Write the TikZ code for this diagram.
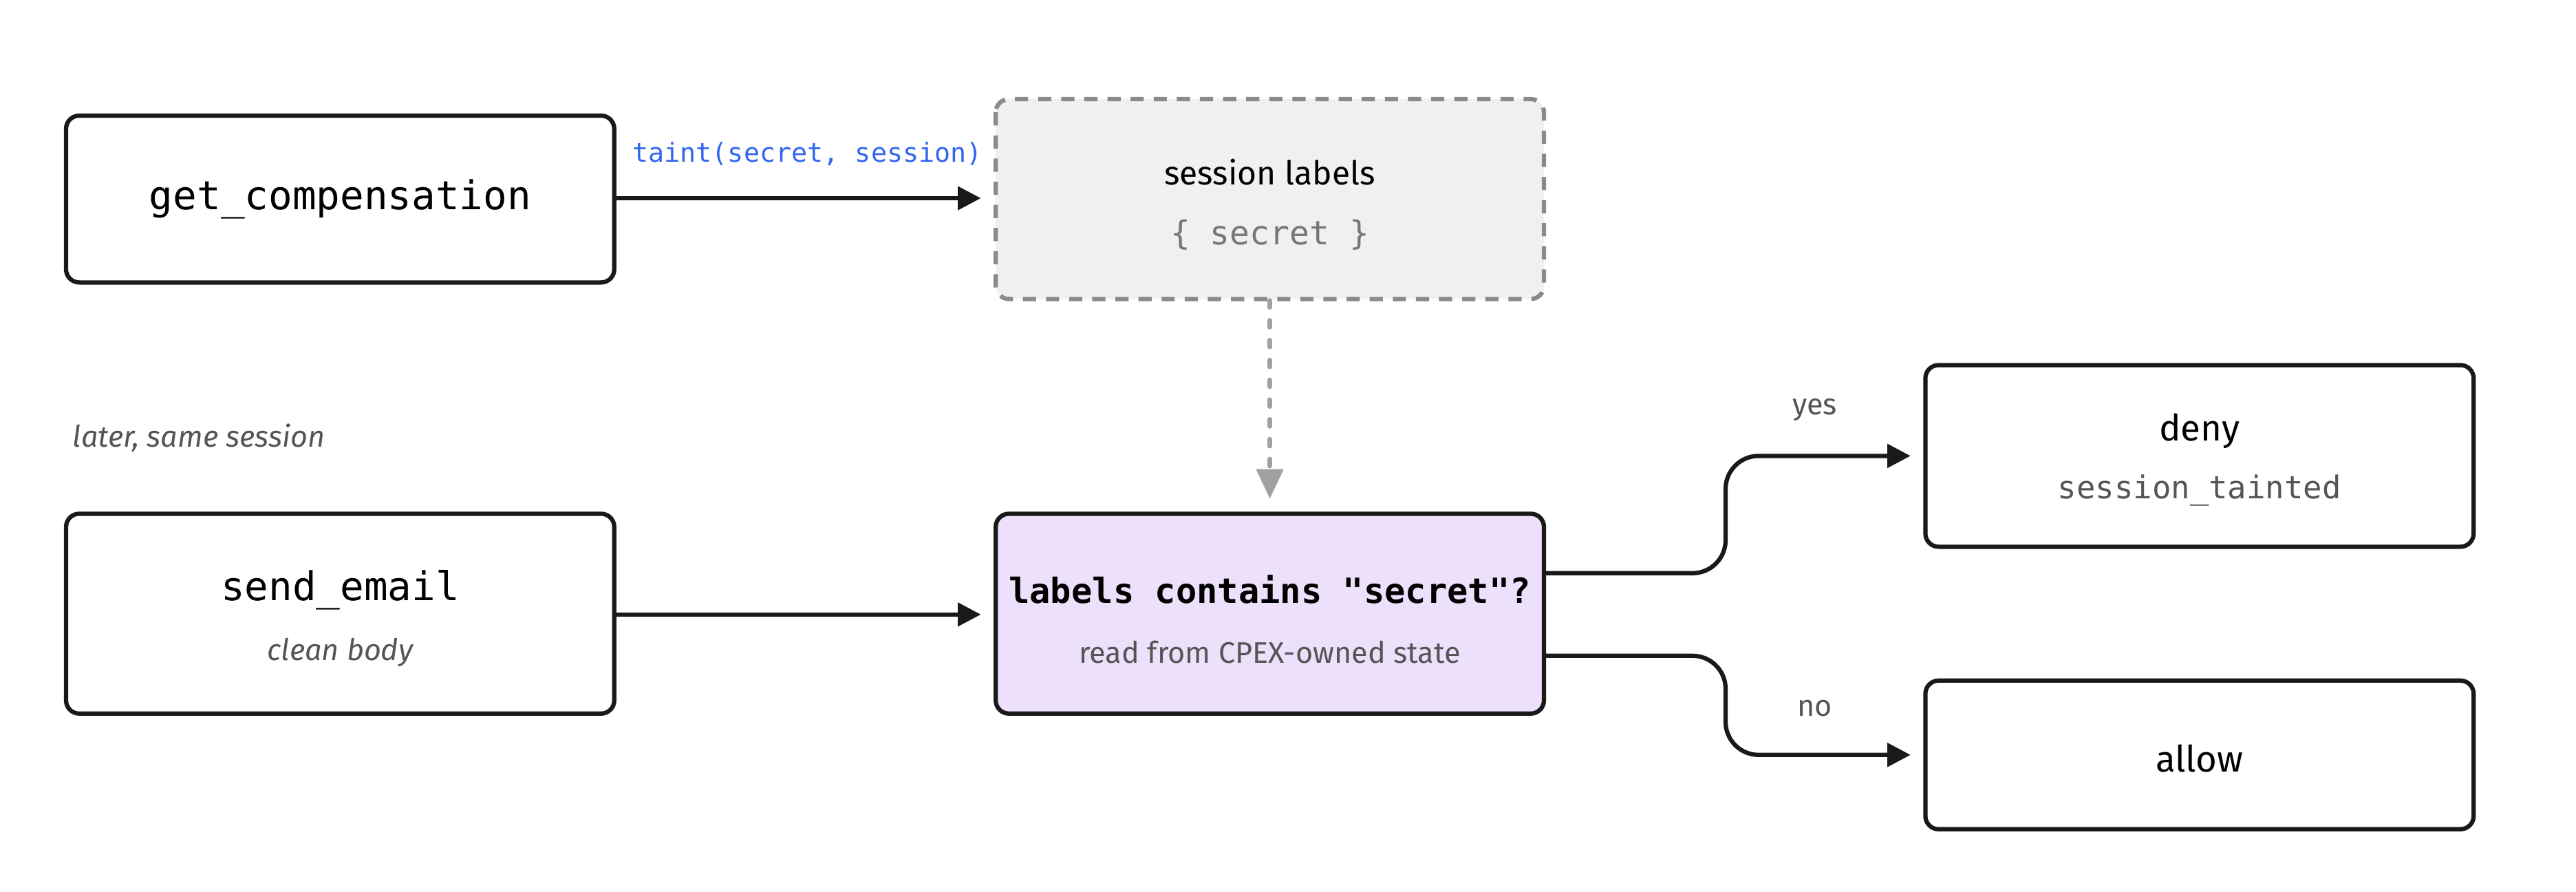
\documentclass[tikz,border=0pt]{standalone}
\usepackage{fontspec}
\setmainfont{Fira Sans}
\setmonofont{DejaVu Sans Mono}
\usetikzlibrary{arrows.meta}
\definecolor{txtgrey}{HTML}{555555}
\definecolor{tblue}{HTML}{3366EE}
\definecolor{lgrey}{HTML}{F0F0F0}
\definecolor{lpurple}{HTML}{EDE0FA}
\definecolor{dgrey}{HTML}{8A8A8A}
\begin{document}
\begin{tikzpicture}[x=0.5pt,y=-0.5pt,
  box/.style={draw=black!90,line width=1.3pt,rounded corners=4pt,fill=white},
  arr/.style={draw=black!90,line width=1.3pt,-{Triangle[length=7pt,width=7pt]}},
  sub/.style={text=txtgrey,font=\fontsize{9}{11}\selectfont}]
\useasboundingbox (0,0) rectangle (1560,540);
\draw[box] (40,70) rectangle (372,171);
\node (gc) at (206,120.5) {};
\node[font=\ttfamily\fontsize{12}{14}\selectfont] at (206,120.5) {get\_compensation};
\draw[box,fill=lgrey,draw=dgrey,dashed,dash pattern=on 4pt off 3pt] (603,60) rectangle (935,181);
\node[font=\fontsize{10}{12}\selectfont] at (769,104) {session labels};
\node[font=\ttfamily\fontsize{10}{12}\selectfont,text=txtgrey!80] at (769,142) {\{ secret \}};
\draw[box] (40,311) rectangle (372,432);
\node[font=\ttfamily\fontsize{12}{14}\selectfont] at (206,357) {send\_email};
\node[sub,font=\itshape\fontsize{9}{11}\selectfont] at (206,395) {clean body};
\draw[box,fill=lpurple] (603,311) rectangle (935,432);
\node[font=\ttfamily\bfseries\fontsize{10.5}{12}\selectfont] at (769,357) {labels contains "secret"?};
\node[sub] at (769,395) {read from CPEX-owned state};
\draw[box] (1166,221) rectangle (1498,331);
\node[font=\fontsize{11}{13}\selectfont] at (1332,261) {deny};
\node[font=\ttfamily\fontsize{9.5}{11}\selectfont,text=txtgrey] at (1332,297) {session\_tainted};
\draw[box] (1166,412) rectangle (1498,502);
\node[font=\fontsize{11}{13}\selectfont] at (1332,459) {allow};
\node[sub,font=\itshape\fontsize{9}{11}\selectfont,anchor=west] at (37,265) {later, same session};
\coordinate (a1) at (372,120);
\coordinate (a2) at (594,120);
\draw[arr] (a1) -- (a2);
\node[font=\ttfamily\fontsize{8}{10}\selectfont,text=tblue] at (489,93) {taint(secret, session)};
\coordinate (b1) at (372,372);
\coordinate (b2) at (594,372);
\draw[arr] (b1) -- (b2);
\coordinate (c1) at (769,182);
\coordinate (c2) at (769,302);
\draw[draw=dgrey!80,line width=1.5pt,dash pattern=on 2pt off 4pt,line cap=round,-{Triangle[length=9pt,width=8pt]}] (c1) -- (c2);
\coordinate (y1) at (935,347);
\coordinate (y2) at (1157,276);
\draw[arr,rounded corners=10pt] (y1) -- (1045,347) -- (1045,276) -- (y2);
\coordinate (n1) at (935,397);
\coordinate (n2) at (1157,457);
\draw[arr,rounded corners=10pt] (n1) -- (1045,397) -- (1045,457) -- (n2);
\node[sub] at (1099,248) {yes};
\node[sub] at (1099,429) {no};
\end{tikzpicture}
\end{document}
